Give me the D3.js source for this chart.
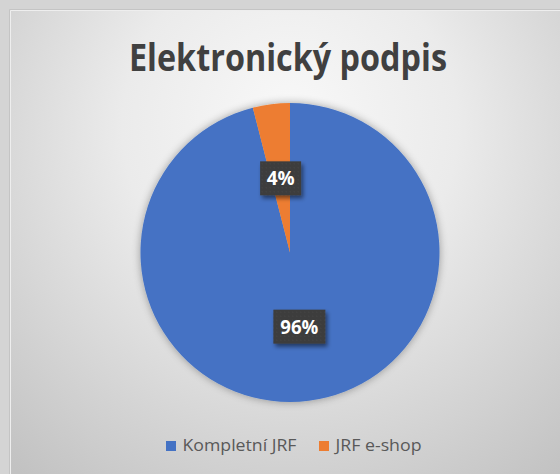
<!DOCTYPE html>
<html>
<head>
<meta charset="utf-8">
<script src="https://cdn.jsdelivr.net/npm/d3@7"></script>
<style>
html,body{margin:0;padding:0;background:#d6d6d6;overflow:hidden;}
svg{display:block;}
</style>
</head>
<body>
<svg id="chart" width="560" height="474"></svg>
<script>
const title = "Elektronický podpis";
const categories = ["Kompletní JRF", "JRF e-shop"];
const values = [96, 4];
const colors = ["#4472C4", "#ED7D31"];

const W = 560, H = 474;
const svg = d3.select("#chart");
const defs = svg.append("defs");

const bg = defs.append("radialGradient").attr("id","bg")
  .attr("gradientUnits","userSpaceOnUse")
  .attr("cx",290).attr("cy",150).attr("r",420)
  .attr("fx",290).attr("fy",110);
bg.append("stop").attr("offset","0%").attr("stop-color","#f8f8f8");
bg.append("stop").attr("offset","40%").attr("stop-color","#ebebeb");
bg.append("stop").attr("offset","100%").attr("stop-color","#c2c2c2");

const sh = defs.append("filter").attr("id","pieShadow")
  .attr("x","-20%").attr("y","-20%").attr("width","140%").attr("height","140%");
sh.append("feGaussianBlur").attr("in","SourceAlpha").attr("stdDeviation",4).attr("result","b");
sh.append("feOffset").attr("in","b").attr("dx",0).attr("dy",0).attr("result","o");
sh.append("feComponentTransfer").attr("in","o").attr("result","o2")
  .append("feFuncA").attr("type","linear").attr("slope",0.35);
const m1 = sh.append("feMerge");
m1.append("feMergeNode").attr("in","o2");
m1.append("feMergeNode").attr("in","SourceGraphic");

const ls = defs.append("filter").attr("id","lblShadow")
  .attr("x","-30%").attr("y","-30%").attr("width","170%").attr("height","170%");
ls.append("feGaussianBlur").attr("in","SourceAlpha").attr("stdDeviation",2).attr("result","b");
ls.append("feOffset").attr("in","b").attr("dx",2).attr("dy",3).attr("result","o");
ls.append("feComponentTransfer").attr("in","o").attr("result","o2")
  .append("feFuncA").attr("type","linear").attr("slope",0.5);
const m2 = ls.append("feMerge");
m2.append("feMergeNode").attr("in","o2");
m2.append("feMergeNode").attr("in","SourceGraphic");

const pat = defs.append("pattern").attr("id","dots")
  .attr("patternUnits","userSpaceOnUse").attr("width",4).attr("height",4);
pat.append("rect").attr("width",4).attr("height",4).attr("fill","#3c3c3c");
pat.append("rect").attr("x",1).attr("y",1).attr("width",1).attr("height",1).attr("fill","#4c4c4c");

// background
svg.append("rect").attr("width",W).attr("height",H).attr("fill","#d4d4d4");
svg.append("rect").attr("x",9).attr("y",9).attr("width",W-9).attr("height",H-9).attr("fill","url(#bg)");
svg.append("path").attr("d",`M9.5,${H} V9.5 H${W}`).attr("fill","none").attr("stroke","#c4c4c4");
svg.append("path").attr("d",`M10.5,${H} V10.5 H${W}`).attr("fill","none").attr("stroke","#eeeeee");

// title
svg.append("text").attr("x",288).attr("y",71)
  .attr("text-anchor","middle")
  .attr("font-family","'Open Sans', sans-serif").attr("font-weight","bold")
  .attr("font-size",37).attr("fill","#404040")
  .attr("textLength",318).attr("lengthAdjust","spacingAndGlyphs")
  .text(title);

// pie
const cx = 290, cy = 252.5, r = 149.5;
const data = categories.map((c,i)=>({cat:c, value:values[i], color:colors[i]}));
const pie = d3.pie().value(d=>d.value).sort(null);
const arc = d3.arc().innerRadius(0).outerRadius(r);
const arcs = pie(data);
const total = d3.sum(values);

const g = svg.append("g").attr("transform",`translate(${cx},${cy})`);
g.append("g").attr("filter","url(#pieShadow)")
  .selectAll("path").data(arcs).join("path")
  .attr("d",arc).attr("fill",d=>d.data.color);

// labels
const lblW = {0:52, 1:41};
const lg = g.selectAll("g.lbl").data(arcs).join("g").attr("class","lbl")
  .attr("transform",d=>{const c=arc.centroid(d);return `translate(${c[0]},${c[1]})`;});
lg.append("rect")
  .attr("x",(d,i)=>-lblW[i]/2).attr("y",-17)
  .attr("width",(d,i)=>lblW[i]).attr("height",34)
  .attr("fill","url(#dots)").attr("filter","url(#lblShadow)");
lg.append("text").attr("text-anchor","middle").attr("y",7)
  .attr("font-family","'Open Sans', sans-serif").attr("font-weight","bold")
  .attr("font-size",19.5).attr("fill","#ffffff")
  .attr("textLength",(d,i)=>i===0?38:28).attr("lengthAdjust","spacingAndGlyphs")
  .text(d=>Math.round(d.data.value/total*100)+"%");

// legend
const legendX = [166, 319];
const textLen = [114, 86];
const leg = svg.append("g");
const li = leg.selectAll("g").data(data).join("g")
  .attr("transform",(d,i)=>`translate(${legendX[i]},441)`);
li.append("rect").attr("width",10).attr("height",10).attr("fill",d=>d.color);
li.append("text").attr("x",16.5).attr("y",10)
  .attr("font-family","'Open Sans', sans-serif").attr("font-size",16.5).attr("fill","#595959")
  .attr("textLength",(d,i)=>textLen[i]).attr("lengthAdjust","spacingAndGlyphs")
  .text(d=>d.cat);
</script>
</body>
</html>
